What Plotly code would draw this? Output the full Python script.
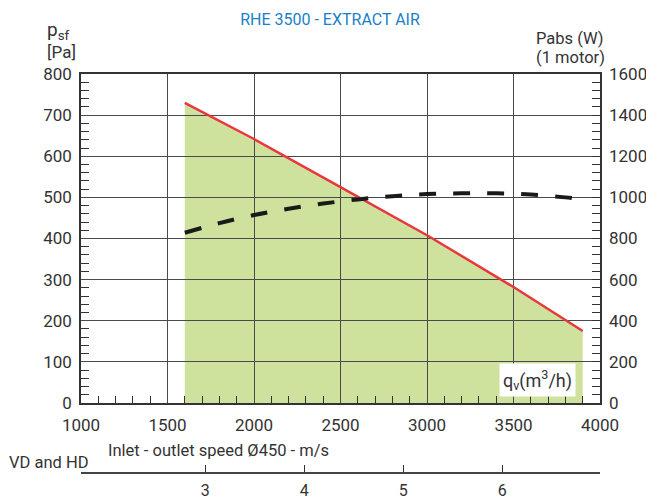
import math
import plotly.graph_objects as go

# ---- data ----
flow_pressure = [1600, 2000, 2500, 3000, 3500, 3900]          # m3/h
pressure = [730, 642, 525, 408, 282, 175]                      # Pa
flow_power = [1600, 1800, 2000, 2200, 2400, 2600, 2800, 3000, 3200, 3400, 3600, 3800, 3900]
power = [828, 875, 914, 945, 970, 990, 1006, 1016, 1020, 1020, 1014, 1000, 990]  # W
speed_ticks = [3, 4, 5, 6]                                     # m/s
duct_diameter = 0.450                                          # m

area = math.pi * (duct_diameter / 2) ** 2
def q2v(q):
    return q / 3600.0 / area

W, H = 646, 500
ML, MR, MT, MB = 81, 46, 74, 27
PW, PH = W - ML - MR, H - MT - MB
def px(x):
    return (x - ML) / PW
def py(y):
    return (H - MB - y) / PH

ydom0 = py(403)
TXT = "#333333"
GRID = "#4a4a4a"
FONT = "Roboto"

fig = go.Figure()

# green operating area (below the grid lines)
path = "M {},0 ".format(flow_pressure[0])
path += " ".join("L {},{}".format(q, p) for q, p in zip(flow_pressure, pressure))
path += " L {},0 Z".format(flow_pressure[-1])
fig.add_shape(type="path", path=path, xref="x", yref="y", layer="below",
              fillcolor="#cfe29d", line=dict(width=0))

fig.add_trace(go.Scatter(
    x=flow_pressure, y=pressure, mode="lines",
    line=dict(color="#e8383d", width=2.5),
    showlegend=False, hoverinfo="skip"))
fig.add_trace(go.Scatter(
    x=flow_power, y=power, mode="lines", yaxis="y2",
    line=dict(color="#1a1a1a", width=4, dash="17px,17px", shape="spline", smoothing=0.8),
    showlegend=False, hoverinfo="skip"))
fig.add_trace(go.Scatter(
    x=speed_ticks, y=[None] * len(speed_ticks), xaxis="x2", mode="markers",
    showlegend=False, hoverinfo="skip"))

fig.update_layout(
    template="none",
    width=W, height=H,
    margin=dict(l=ML, r=MR, t=MT, b=MB, autoexpand=False),
    paper_bgcolor="white", plot_bgcolor="white",
    font=dict(family=FONT, size=17, color=TXT),
    title=dict(text="RHE 3500 - EXTRACT AIR", x=330 / W, y=1 - 19.5 / H,
               xanchor="center", yanchor="middle",
               font=dict(family=FONT, size=16, color="#1a7fc8")),
    xaxis=dict(range=[1000, 4000], dtick=500, showgrid=True, gridcolor=GRID, gridwidth=1.3,
               showline=True, linecolor=TXT, linewidth=1.5, mirror=True, ticks="",
               minor=dict(dtick=100, ticks="inside", ticklen=7, tickcolor=TXT, tickwidth=1, showgrid=False),
               zeroline=False, anchor="y", automargin=False, ticklabelstandoff=6,
               tickfont=dict(size=17)),
    xaxis2=dict(range=[q2v(1000), q2v(4000)], overlaying="x", anchor="free", position=0,
                side="bottom", tickvals=speed_ticks, ticks="inside", ticklen=7, tickcolor=TXT,
                showline=True, linecolor="#444444", linewidth=1.5, showgrid=False, zeroline=False,
                automargin=False, ticklabelstandoff=3, tickfont=dict(size=16)),
    yaxis=dict(range=[0, 800], dtick=100, domain=[ydom0, 1], showgrid=True, gridcolor=GRID,
               gridwidth=1.3, showline=True, linecolor=TXT, linewidth=1.5, mirror=True, ticks="",
               minor=dict(dtick=20, ticks="inside", ticklen=8, tickcolor=TXT, tickwidth=1, showgrid=False),
               zeroline=False, automargin=False, ticklabelstandoff=4, tickfont=dict(size=17)),
    yaxis2=dict(range=[0, 1600], dtick=200, overlaying="y", side="right", showgrid=False,
                zeroline=False, ticks="inside", ticklen=8, tickcolor=TXT, automargin=False,
                minor=dict(dtick=40, ticks="inside", ticklen=8, tickcolor=TXT, tickwidth=1, showgrid=False),
                ticklabelstandoff=8, tickfont=dict(size=17)),
)

ann = [
    dict(text="p<sub>sf</sub>", x=px(45), y=py(30), font=dict(size=19)),
    dict(text="[Pa]", x=px(45), y=py(52)),
    dict(text="Pabs (W)", x=px(534), y=py(38), font=dict(size=16.5)),
    dict(text="(1 motor)", x=px(534), y=py(57), font=dict(size=16.5)),
    dict(text="Inlet - outlet speed Ø450 - m/s", x=px(106), y=py(450), font=dict(size=16.5)),
    dict(text="VD and HD", x=px(7), y=py(462), font=dict(size=16.5)),
]
for a in ann:
    fig.add_annotation(xref="paper", yref="paper", xanchor="left", yanchor="middle",
                       showarrow=False, **a)
fig.add_annotation(text="q<sub>v</sub>(m<sup>3</sup>/h)", xref="paper", yref="paper",
                   x=px(537), y=py(380), xanchor="center", yanchor="middle", showarrow=False,
                   bgcolor="white", borderpad=3, font=dict(size=18))

fig.write_html("out.html")
